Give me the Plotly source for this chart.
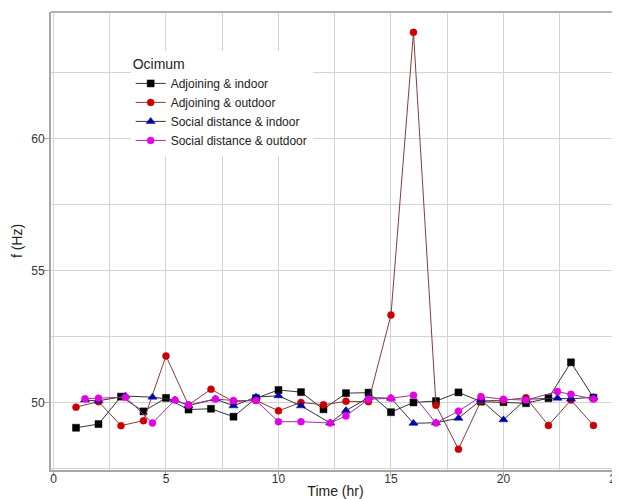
import plotly.graph_objects as go

# ---- data ----
hours = list(range(1, 25))
hours_sd = [1.4, 2, 3.2, 4.4, 5.4, 6, 7.2, 8, 9, 10, 11, 12.3, 13, 14, 15, 16,
            17, 18, 19, 20, 21, 22.4, 23, 24]

adj_indoor = [49.06, 49.20, 50.24, 49.68, 50.19, 49.75, 49.78, 49.48, 50.18, 50.49,
              50.41, 49.76, 50.37, 50.39, 49.65, 50.02, 50.07, 50.40, 50.05, 50.03,
              49.99, 50.18, 51.54, 50.20]
adj_outdoor = [49.84, 50.05, 49.14, 49.33, 51.78, 49.92, 50.52, 50.05, 50.10, 49.70,
               50.02, 49.93, 50.06, 50.05, 53.33, 64.04, 49.91, 48.25, 50.08, 50.10,
               50.20, 49.15, 50.11, 49.15]
sd_indoor = [50.11, 50.08, 50.26, 50.22, 50.11, 49.90, 50.15, 49.89, 50.22, 50.27,
             49.89, 49.24, 49.71, 50.20, 50.18, 49.23, 49.25, 49.42, 50.11, 49.36,
             50.14, 50.18, 50.15, 50.22]
sd_outdoor = [50.16, 50.18, 50.22, 49.24, 50.11, 49.92, 50.15, 50.09, 50.09, 49.29,
              49.29, 49.24, 49.51, 50.14, 50.18, 50.29, 49.24, 49.69, 50.24, 50.14,
              50.11, 50.43, 50.33, 50.15]

series = [
    ("Adjoining & indoor", hours, adj_indoor, "#000000", "#333333", "square", 7),
    ("Adjoining & outdoor", hours, adj_outdoor, "#cc0000", "#8b3a3a", "circle", 7),
    ("Social distance & indoor", hours_sd, sd_indoor, "#0000aa", "#333333", "triangle-up", 8),
    ("Social distance & outdoor", hours_sd, sd_outdoor, "#e600e6", "#9b309b", "circle", 7),
]

FONT = "Liberation Sans, Arial, sans-serif"

fig = go.Figure()
for name, xs, ys, mcol, lcol, sym, sz in series:
    fig.add_trace(go.Scatter(
        x=xs, y=ys, name=name, mode="lines+markers",
        line=dict(color=lcol, width=1),
        marker=dict(color=mcol, symbol=sym, size=sz,
                    line=dict(color=mcol, width=0.5)),
    ))

grid = "#d4d4d4"
# the page body adds an 8px offset, so the figure is sized to end at the window edge
fig.update_layout(
    width=612, height=491,
    margin=dict(l=43, r=0, t=4, b=29),
    paper_bgcolor="white", plot_bgcolor="white",
    font=dict(family=FONT, size=12, color="#222222"),
    showlegend=True,
    legend=dict(
        x=0.14, y=0.9155, xanchor="left", yanchor="top",
        bgcolor="white", borderwidth=0,
        title=dict(text="Ocimum", font=dict(size=14, family=FONT, color="#222222")),
        font=dict(size=12, family=FONT, color="#222222"),
        itemwidth=30,
    ),
    xaxis=dict(
        range=[-0.111, 25.18], tick0=0, dtick=5, automargin=False,
        showgrid=True, gridcolor=grid, gridwidth=1.2,
        minor=dict(tick0=0, dtick=2.5, showgrid=True, gridcolor=grid, gridwidth=1),
        zeroline=False,
        showline=True, linecolor="#a6a6a6", linewidth=2,
        ticks="outside", ticklen=4, tickcolor="#a6a6a6",
        tickfont=dict(size=12, color="#333333"),
        ticklabeloverflow="allow", ticklabelstandoff=-7,
        title=dict(text="Time (hr)", font=dict(size=14, color="#222222"), standoff=9),
    ),
    yaxis=dict(
        range=[47.46, 64.81], tick0=50, dtick=5, automargin=False,
        showgrid=True, gridcolor=grid, gridwidth=1.2,
        minor=dict(tick0=50, dtick=2.5, showgrid=True, gridcolor=grid, gridwidth=1),
        zeroline=False,
        showline=True, linecolor="#a6a6a6", linewidth=2,
        ticks="outside", ticklen=5, tickcolor="#a6a6a6",
        tickfont=dict(size=12, color="#333333"),
        ticklabelstandoff=-3,
        title=dict(text="f (Hz)", font=dict(size=14, color="#222222"), standoff=5),
    ),
)
# top border of panel
fig.add_shape(type="line", xref="paper", yref="paper", x0=0, x1=1, y0=1, y1=1,
              line=dict(color="#b3b3b3", width=2))

fig.write_html("out.html")
